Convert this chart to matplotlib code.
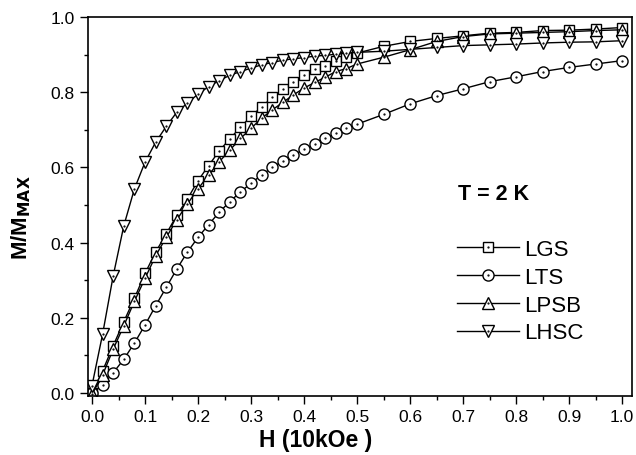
import matplotlib
matplotlib.use("Agg")
import matplotlib.pyplot as plt
from matplotlib.ticker import MultipleLocator, FormatStrFormatter

plt.rcParams['font.family'] = ['Liberation Sans', 'DejaVu Sans']

H = [0.00, 0.02, 0.04, 0.06, 0.08, 0.10, 0.12, 0.14, 0.16, 0.18,
     0.20, 0.22, 0.24, 0.26, 0.28, 0.30, 0.32, 0.34, 0.36, 0.38,
     0.40, 0.42, 0.44, 0.46, 0.48, 0.50, 0.55, 0.60, 0.65, 0.70,
     0.75, 0.80, 0.85, 0.90, 0.95, 1.00]

LGS = [0.000, 0.059, 0.126, 0.190, 0.252, 0.318, 0.375, 0.423, 0.473, 0.516,
       0.565, 0.605, 0.644, 0.676, 0.707, 0.736, 0.761, 0.786, 0.809, 0.828,
       0.847, 0.861, 0.871, 0.882, 0.893, 0.904, 0.922, 0.935, 0.943, 0.950,
       0.957, 0.959, 0.964, 0.965, 0.968, 0.972]

LTS = [0.000, 0.021, 0.054, 0.090, 0.133, 0.181, 0.232, 0.281, 0.330, 0.375,
       0.414, 0.448, 0.481, 0.509, 0.535, 0.558, 0.580, 0.600, 0.617, 0.633,
       0.648, 0.662, 0.677, 0.691, 0.704, 0.715, 0.741, 0.769, 0.791, 0.809,
       0.828, 0.841, 0.855, 0.866, 0.875, 0.884]

LPSB = [-0.003, 0.048, 0.117, 0.179, 0.244, 0.305, 0.365, 0.414, 0.461, 0.503,
        0.543, 0.580, 0.615, 0.646, 0.677, 0.704, 0.731, 0.753, 0.773, 0.793,
        0.811, 0.826, 0.840, 0.855, 0.863, 0.875, 0.893, 0.913, 0.935, 0.948,
        0.955, 0.957, 0.959, 0.961, 0.964, 0.966]

LHSC = [0.020, 0.157, 0.312, 0.445, 0.543, 0.614, 0.667, 0.709, 0.747, 0.771,
        0.795, 0.815, 0.831, 0.845, 0.855, 0.864, 0.873, 0.879, 0.885, 0.889,
        0.892, 0.896, 0.898, 0.901, 0.904, 0.906, 0.909, 0.914, 0.919, 0.924,
        0.926, 0.928, 0.931, 0.933, 0.934, 0.937]

series = [("LGS", LGS, "s", 7.0), ("LTS", LTS, "o", 8.0),
          ("LPSB", LPSB, "^", 8.5), ("LHSC", LHSC, "v", 8.5)]

fig = plt.figure(figsize=(6.36, 4.56), dpi=100)
ax = fig.add_axes([0.138, 0.130, 0.856, 0.8305])

handles = []
labels = []
for name, vals, mk, ms in series:
    l, = ax.plot(H, vals, color='black', lw=1.0, marker=mk, ms=ms,
                 mfc='white', mec='black', mew=1.0)
    d, = ax.plot(H, vals, linestyle='none', marker='.', ms=1.2, color='black')
    handles.append((l, d))
    labels.append(name)

ax.set_xlim(-0.008, 1.019)
ax.set_ylim(-0.007, 1.0)
ax.xaxis.set_major_locator(MultipleLocator(0.1))
ax.xaxis.set_minor_locator(MultipleLocator(0.05))
ax.yaxis.set_major_locator(MultipleLocator(0.2))
ax.yaxis.set_minor_locator(MultipleLocator(0.1))
ax.xaxis.set_major_formatter(FormatStrFormatter('%.1f'))
ax.yaxis.set_major_formatter(FormatStrFormatter('%.1f'))
ax.tick_params(which='major', direction='out', length=6, width=1, labelsize=12.5,
               top=False, right=False, colors='black')
ax.tick_params(which='minor', direction='out', length=3, width=1,
               top=False, right=False)
for s in ax.spines.values():
    s.set_linewidth(1.2)

ax.set_xlabel("H (10kOe )", fontsize=16.5, fontweight='bold')
ax.xaxis.set_label_coords(0.419, -0.085)
ax.set_ylabel(r"M/M$_\mathbf{MAX}$", fontsize=16, fontweight='bold')
ax.yaxis.set_label_coords(-0.10, 0.472)

ax.text(0.68, 0.535, "T = 2 K", transform=ax.transAxes, fontsize=15.5,
        fontweight='bold', ha='left', va='center')

leg = ax.legend(handles, labels, loc='upper left', bbox_to_anchor=(0.662, 0.438),
                frameon=False, fontsize=16, handlelength=2.8, handletextpad=0.2,
                labelspacing=0.31, borderaxespad=0)

fig.savefig("out.png", dpi=100)
